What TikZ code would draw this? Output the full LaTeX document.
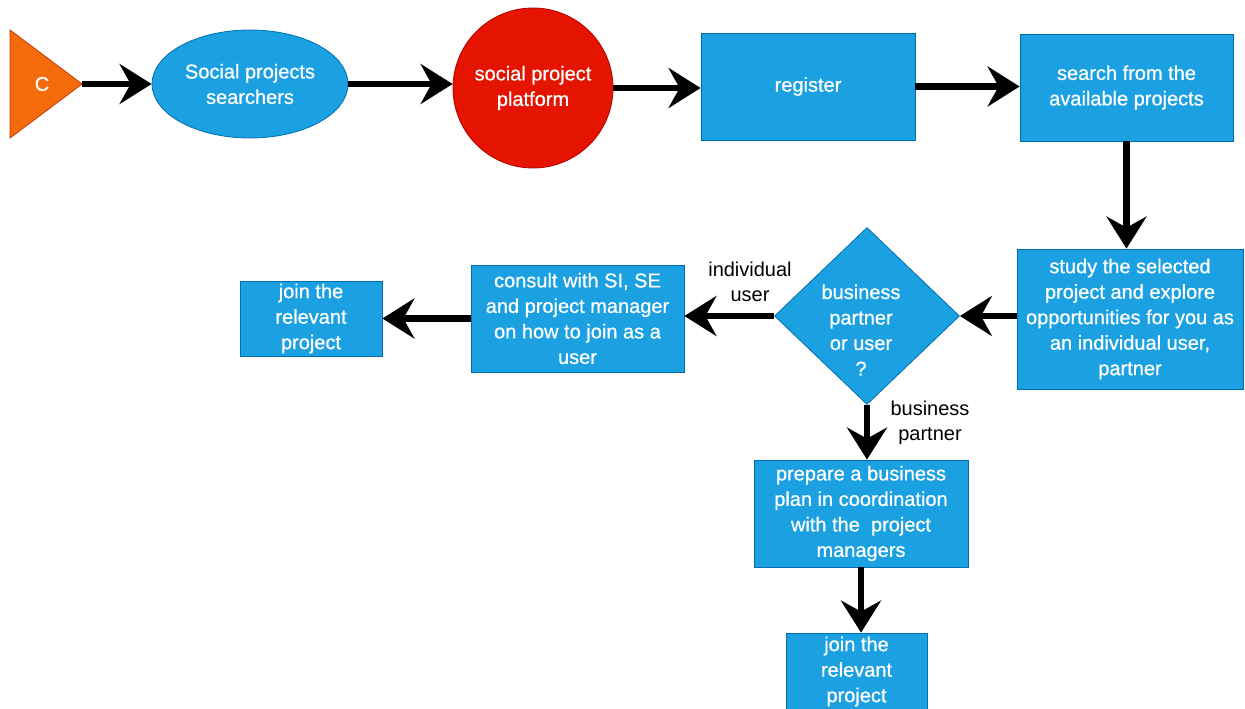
\documentclass[tikz,border=0pt]{standalone}
\usepackage{fontspec}
\setmainfont{Liberation Sans}
\newfontfamily\boxfont[FakeBold=0.7]{Liberation Sans}
\usetikzlibrary{arrows.meta,shapes.geometric}
\definecolor{boxblue}{HTML}{1BA1E2}
\definecolor{boxline}{HTML}{006EAF}
\definecolor{platred}{HTML}{E51400}
\definecolor{platline}{HTML}{B20000}
\definecolor{startorange}{HTML}{F56A0B}
\definecolor{startline}{HTML}{C73500}

\begin{document}
\begin{tikzpicture}[x=1pt,y=-1pt,
  every node/.style={font=\boxfont\fontsize{20}{25.5}\selectfont, align=center, inner sep=0pt},
  box/.style={rectangle, fill=boxblue, draw=boxline, line width=0.8pt, text=white},
  flow/.style={line width=6.5pt, -{Stealth[length=32pt,width=40pt,inset=11pt]}},
  lbl/.style={text=black, font=\rmfamily\fontsize{20}{25.5}\selectfont}]
\useasboundingbox (0,0) rectangle (1245,709);

% start marker
\coordinate (tipC) at (82,84);
\draw[fill=startorange, draw=startline, line width=0.8pt] (10,30) -- (10,138) -- (tipC) -- cycle;
\node[text=white] (c) at (42,84) {C};

% top row
\node[ellipse, fill=boxblue, draw=boxline, line width=0.8pt, text=white,
      minimum width=196pt, minimum height=108pt] (ell) at (250,84)
      {Social projects\\searchers};
\node[circle, fill=platred, draw=platline, line width=0.8pt, text=white,
      minimum size=160pt] (plat) at (533,88) {social project\\platform};
\node[box, minimum width=214pt, minimum height=107pt] (reg) at (808,86.5) {register};
\node[box, minimum width=213pt, minimum height=107pt] (srch) at (1126.5,87.5)
      {search from the\\available projects};

% second row
\node[box, minimum width=226pt, minimum height=140pt] (study) at (1130,319)
      {study the selected\\project and explore\\opportunities for you as\\an individual user,\\partner};
\node[diamond, fill=boxblue, draw=boxline, line width=0.8pt,
      minimum width=185pt, minimum height=177pt] (dec) at (867,316) {};
\node[text=white] (dectext) at (861,330) {business\\partner\\or user\\?};
\node[box, minimum width=213pt, minimum height=107pt] (consult) at (577.5,318.5)
      {consult with SI, SE\\and project manager\\on how to join as a\\user};
\node[box, minimum width=142pt, minimum height=75pt] (joinA) at (311,318.5)
      {join the\\relevant\\project};

% lower branch
\node[box, minimum width=214pt, minimum height=107pt] (prep) at (861,513.5)
      {prepare a business\\plan in coordination\\with the\ \ project\\managers};
\node[box, minimum width=141pt, minimum height=77pt] (joinB) at (856.5,671.5)
      {join the\\relevant\\project};

% branch labels
\node[lbl] (lindiv) at (750,282) {individual\\user};
\node[lbl] (lbus) at (930,423) {business\\partner};

% connectors (all straight, horizontal or vertical)
\draw[flow] (tipC) -- (tipC -| ell.west);
\draw[flow] (ell.east) -- (ell.east -| plat.west);
\draw[flow] (plat.east) -- (plat.east -| reg.west);
\draw[flow] (reg.east) -- (reg.east -| srch.west);
\draw[flow] (srch.south) -- (srch.south |- study.north);
\draw[flow] (study.west |- dec.east) -- (dec.east);
\draw[flow] (dec.west) -- (dec.west -| consult.east);
\draw[flow] (consult.west) -- (consult.west -| joinA.east);
\draw[flow] (dec.south) -- (dec.south |- prep.north);
\draw[flow] (prep.south) -- (prep.south |- joinB.north);
\end{tikzpicture}
\end{document}
